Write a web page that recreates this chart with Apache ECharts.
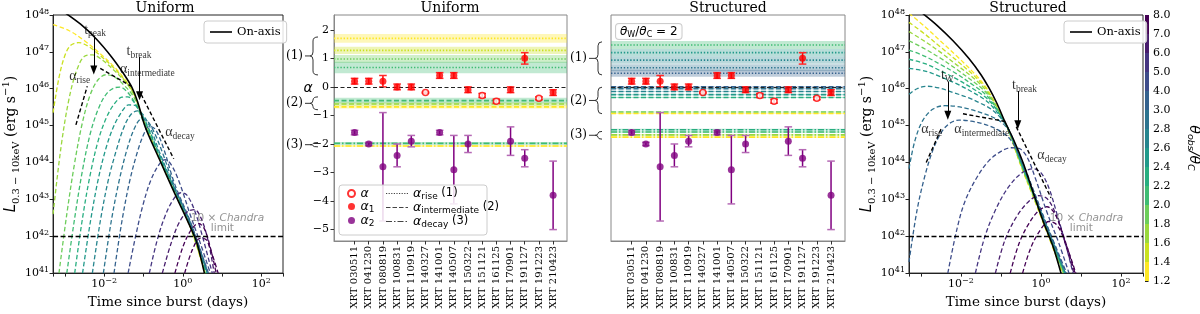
<!DOCTYPE html>
<html>
<head>
<meta charset="utf-8">
<script src="https://cdn.jsdelivr.net/npm/echarts@6.0.0/dist/echarts.min.js"></script>
<style>
html,body{margin:0;padding:0;background:#ffffff;}
#chart{width:1200px;height:314px;}
</style>
</head>
<body>
<div id="chart"></div>
<script>
// ======================= DATA =======================
const thetaBounds = [1.2,1.4,1.6,1.8,2.0,2.2,2.4,2.6,2.8,3.0,4.0,5.0,6.0,7.0,8.0];
const thetaTickLabels = ['1.2','1.4','1.6','1.8','2.0','2.2','2.4','2.6','2.8','3.0','4.0','5.0','6.0','7.0','8.0'];
const curveThetas = [1.2,1.4,1.6,1.8,2.0,2.2,2.4,2.6,2.8,3.0,4.0,5.0,6.0,7.0,8.0];

// Uniform jet light curves [days, erg/s]
const uniformOnAxis = [[8.91e-4,1.26e48],[2.51e-3,5.62e47],[6.31e-3,2.24e47],[1.58e-2,7.08e46],[3.16e-2,2.51e46],[5.01e-2,1.12e46],[7.08e-2,4.47e45],[0.112,8.91e44],[0.251,1.26e44],[0.631,1.41e43],[1.41,2.24e42],[2.24,7.08e41],[3.55,1.0e41]];
const uniformCurves = [
 [[5.01e-4,5.50e47],[1.26e-3,3.80e47],[3.16e-3,2.00e47],[7.94e-3,8.91e46],[1.78e-2,3.98e46],[3.55e-2,1.66e46],[5.62e-2,7.59e45],[8.91e-2,2.00e45],[0.251,1.32e44],[0.631,1.48e43],[1.585,1.66e42],[3.63,1e41]],
 [[5.01e-4,2.24e45],[7.08e-4,2.00e46],[1.0e-3,7.94e46],[1.41e-3,1.51e47],[2.24e-3,1.78e47],[3.98e-3,1.41e47],[7.94e-3,7.94e46],[1.78e-2,3.63e46],[3.55e-2,1.58e46],[5.62e-2,7.41e45],[8.91e-2,2.00e45],[0.251,1.35e44],[0.631,1.51e43],[1.585,1.70e42],[3.72,1e41]],
 [[5.01e-4,3.98e42],[7.94e-4,2.51e44],[1.26e-3,5.01e45],[2.00e-3,3.16e46],[3.16e-3,7.59e46],[5.01e-3,8.32e46],[8.91e-3,6.03e46],[1.78e-2,3.16e46],[3.55e-2,1.48e46],[5.62e-2,7.08e45],[8.91e-2,2.00e45],[0.251,1.38e44],[0.631,1.55e43],[1.585,1.74e42],[3.80,1e41]],
 [[7.08e-4,1e41],[1.12e-3,3.98e42],[1.78e-3,1.0e44],[2.82e-3,1.26e45],[4.47e-3,7.08e45],[7.08e-3,1.78e46],[1.12e-2,2.40e46],[1.78e-2,2.14e46],[3.16e-2,1.26e46],[5.62e-2,6.03e45],[8.91e-2,1.91e45],[0.251,1.41e44],[0.631,1.58e43],[1.585,1.78e42],[3.89,1e41]],
 [[1.12e-3,1e41],[1.78e-3,3.16e42],[2.82e-3,6.31e43],[4.47e-3,6.31e44],[7.08e-3,2.82e45],[1.12e-2,7.08e45],[1.78e-2,1.05e46],[2.51e-2,1.10e46],[3.98e-2,7.94e45],[6.31e-2,3.80e45],[0.1,1.26e45],[0.251,1.48e44],[0.631,1.66e43],[1.585,1.86e42],[3.98,1e41]],
 [[1.78e-3,1e41],[2.82e-3,3.16e42],[4.47e-3,5.01e43],[7.08e-3,3.98e44],[1.12e-2,1.58e45],[1.78e-2,3.80e45],[2.82e-2,5.89e45],[3.98e-2,6.03e45],[5.62e-2,4.47e45],[8.91e-2,1.91e45],[0.141,7.08e44],[0.251,1.58e44],[0.631,1.74e43],[1.585,1.95e42],[4.07,1e41]],
 [[2.82e-3,1e41],[4.47e-3,2.51e42],[7.08e-3,3.55e43],[1.12e-2,2.51e44],[1.78e-2,1.0e45],[2.82e-2,2.40e45],[4.17e-2,3.63e45],[6.03e-2,3.55e45],[8.91e-2,2.09e45],[0.141,7.59e44],[0.251,1.70e44],[0.631,1.82e43],[1.585,2.04e42],[4.17,1e41]],
 [[5.01e-3,1e41],[7.94e-3,2.51e42],[1.26e-2,3.16e43],[2.00e-2,2.00e44],[3.16e-2,8.91e44],[4.79e-2,2.00e45],[7.08e-2,2.51e45],[0.1,1.91e45],[0.158,7.59e44],[0.251,2.00e44],[0.631,1.91e43],[1.585,2.14e42],[4.27,1e41]],
 [[9.55e-3,1e41],[1.51e-2,2.51e42],[2.40e-2,3.16e43],[3.80e-2,2.24e44],[6.03e-2,8.91e44],[8.91e-2,1.51e45],[0.126,1.32e45],[0.191,6.31e44],[0.316,1.66e44],[0.631,2.09e43],[1.585,2.24e42],[4.37,1e41]],
 [[1.78e-2,1e41],[2.82e-2,2.51e42],[4.47e-2,3.16e43],[7.08e-2,2.00e44],[0.105,6.31e44],[0.141,9.55e44],[0.200,7.94e44],[0.316,2.63e44],[0.631,2.51e43],[1.585,2.40e42],[4.47,1e41]],
 [[4.07e-2,1e41],[6.31e-2,1e42],[0.1,7.94e42],[0.158,3.55e43],[0.251,8.91e43],[0.355,1.20e44],[0.501,8.91e43],[0.794,3.16e43],[1.585,3.55e42],[2.82,6.31e41],[5.01,1e41]],
 [[0.141,1e41],[0.224,7.94e41],[0.355,3.55e42],[0.562,9.55e42],[0.891,1.51e43],[1.26,1.32e43],[2.00,5.01e42],[3.16,1e42],[5.62,1e41]],
 [[0.302,1e41],[0.501,6.31e41],[0.794,2.24e42],[1.26,4.47e42],[2.00,5.25e42],[3.02,2.82e42],[4.47,7.08e41],[6.31,1e41]],
 [[0.631,1e41],[1.0,5.01e41],[1.585,1.41e42],[2.51,2.24e42],[3.55,1.58e42],[5.01,5.01e41],[7.08,1e41]],
 [[1.12,1e41],[1.78,4.47e41],[2.82,8.91e41],[3.98,7.94e41],[5.62,3.16e41],[7.94,1e41]]
];
const uniformRiseFit = [[1.91e-3,1.05e45],[3.72e-3,1.17e46]];
const uniformInterFit = [[7.94e-3,3.55e46],[4.90e-2,1.17e46]];
const uniformDecayFit = [[8.71e-2,7.08e45],[0.589,1.26e44]];

// Structured jet light curves [days, erg/s]
const structuredOnAxis = [[1.0e-3,1.20e48],[2.51e-3,5.25e47],[6.31e-3,2.00e47],[1.58e-2,6.61e46],[3.16e-2,2.40e46],[5.01e-2,1.05e46],[7.94e-2,3.98e45],[0.126,1.26e45],[0.200,4.47e44],[0.355,1.0e44],[0.631,1.58e43],[1.12,2.63e42],[2.00,5.25e41],[3.16,1e41]];
const structuredCurves = [
 [[5.01e-4,1.12e48],[1.26e-3,4.79e47],[3.16e-3,1.91e47],[7.94e-3,7.59e46],[2.00e-2,2.82e46],[3.98e-2,1.20e46],[6.31e-2,5.25e45],[0.1,2.00e45],[0.158,6.61e44],[0.316,7.94e43],[0.631,1.20e43],[1.41,1.26e42],[3.47,1e41]],
 [[5.01e-4,6.31e47],[1.26e-3,3.02e47],[3.16e-3,1.32e47],[7.94e-3,5.75e46],[2.00e-2,2.40e46],[3.98e-2,1.10e46],[6.31e-2,5.01e45],[0.1,2.00e45],[0.158,6.76e44],[0.316,8.32e43],[0.631,1.26e43],[1.41,1.32e42],[3.55,1e41]],
 [[5.01e-4,3.55e47],[1.26e-3,1.91e47],[3.16e-3,9.55e46],[7.94e-3,4.37e46],[2.00e-2,2.00e46],[3.98e-2,9.77e45],[6.31e-2,4.79e45],[0.1,1.95e45],[0.158,6.92e44],[0.316,8.71e43],[0.631,1.32e43],[1.41,1.38e42],[3.63,1e41]],
 [[5.01e-4,2.00e47],[1.26e-3,1.20e47],[3.16e-3,6.61e46],[7.94e-3,3.31e46],[2.00e-2,1.58e46],[3.98e-2,8.51e45],[6.31e-2,4.37e45],[0.1,1.91e45],[0.158,7.08e44],[0.316,9.12e43],[0.631,1.38e43],[1.41,1.45e42],[3.72,1e41]],
 [[5.01e-4,1.12e47],[1.26e-3,7.59e46],[3.16e-3,4.47e46],[7.94e-3,2.51e46],[2.00e-2,1.26e46],[3.98e-2,7.24e45],[6.31e-2,3.98e45],[0.1,1.86e45],[0.158,7.24e44],[0.316,9.55e43],[0.631,1.45e43],[1.41,1.51e42],[3.80,1e41]],
 [[5.01e-4,6.31e46],[1.26e-3,4.79e46],[3.16e-3,3.02e46],[7.94e-3,1.82e46],[2.00e-2,1.0e46],[3.98e-2,6.03e45],[6.31e-2,3.63e45],[0.1,1.78e45],[0.158,7.41e44],[0.316,1.0e44],[0.631,1.51e43],[1.41,1.58e42],[3.89,1e41]],
 [[5.01e-4,3.55e46],[1.26e-3,3.02e46],[3.16e-3,2.09e46],[7.94e-3,1.35e46],[2.00e-2,7.94e45],[3.98e-2,5.01e45],[6.31e-2,3.16e45],[0.1,1.66e45],[0.158,7.59e44],[0.316,1.05e44],[0.631,1.58e43],[1.41,1.66e42],[3.98,1e41]],
 [[5.01e-4,7.08e45],[7.94e-4,1.0e46],[1.41e-3,1.17e46],[2.82e-3,1.05e46],[6.31e-3,7.94e45],[1.58e-2,5.62e45],[3.16e-2,3.98e45],[5.62e-2,2.82e45],[0.1,1.58e45],[0.158,7.59e44],[0.316,1.12e44],[0.631,1.66e43],[1.41,1.78e42],[4.07,1e41]],
 [[5.01e-4,6.76e43],[7.08e-4,3.98e44],[1.12e-3,1.41e45],[2.00e-3,2.82e45],[3.98e-3,3.47e45],[7.94e-3,3.31e45],[1.58e-2,2.82e45],[3.16e-2,2.24e45],[5.62e-2,1.78e45],[0.1,1.26e45],[0.158,7.08e44],[0.316,1.20e44],[0.631,1.78e43],[1.41,1.91e42],[4.17,1e41]],
 [[5.01e-4,2.00e41],[7.94e-4,5.01e42],[1.26e-3,4.47e43],[2.00e-3,2.24e44],[3.16e-3,6.31e44],[5.01e-3,1.12e45],[8.91e-3,1.41e45],[1.78e-2,1.32e45],[3.55e-2,1.12e45],[6.31e-2,8.91e44],[0.112,6.31e44],[0.178,3.98e44],[0.316,1.26e44],[0.631,1.91e43],[1.41,2.00e42],[4.37,1e41]],
 [[4.68e-3,1e41],[7.94e-3,1.58e42],[1.26e-2,8.91e42],[2.51e-2,3.98e43],[5.01e-2,1.12e44],[0.1,2.00e44],[0.178,2.51e44],[0.282,2.40e44],[0.447,1.41e44],[0.708,3.98e43],[1.41,4.47e42],[2.82,6.31e41],[5.01,1e41]],
 [[2.29e-2,1e41],[3.98e-2,1e42],[7.94e-2,6.31e42],[0.158,2.24e43],[0.316,5.01e43],[0.631,6.76e43],[1.0,5.25e43],[1.585,2.00e43],[2.51,3.98e42],[3.98,7.08e41],[6.31,1e41]],
 [[7.24e-2,1e41],[0.126,7.94e41],[0.251,3.55e42],[0.501,8.91e42],[0.891,1.26e43],[1.41,1.05e43],[2.24,4.47e42],[3.55,1e42],[6.61,1e41]],
 [[0.170,1e41],[0.282,6.31e41],[0.501,2.24e42],[0.891,5.01e42],[1.41,6.31e42],[2.24,3.98e42],[3.55,1.12e42],[7.08,1e41]],
 [[0.347,1e41],[0.562,5.01e41],[1.0,1.58e42],[1.585,2.51e42],[2.51,2.00e42],[3.98,7.08e41],[7.41,1e41]]
];
const structuredRiseFit = [[1.35e-3,1.0e44],[3.24e-3,8.51e44]];
const structuredInterFit = [[1.12e-2,2.09e45],[0.148,1.26e45]];
const structuredDecayFit = [[0.240,9.33e44],[1.78,1.10e43]];

const chandraLimit = 1e42;

// Observed temporal indices
const xrtIds = ['XRT 030511','XRT 041230','XRT 080819','XRT 100831','XRT 110919','XRT 140327','XRT 141001','XRT 140507','XRT 150322','XRT 151121','XRT 161125','XRT 170901','XRT 191127','XRT 191223','XRT 210423'];
const alphaSingle    = [null,null,null,null,null,-0.2,null,null,null,-0.3,-0.5,null,null,-0.4,null];
const alphaSingleErr = [null,null,null,null,null,0.02,null,null,null,0.07,0.07,null,null,0.05,null];
const alpha1    = [0.2,0.2,0.2,0.0,0.0,null,0.4,0.4,-0.1,null,null,-0.1,1.0,null,-0.2];
const alpha1Err = [0.1,0.1,0.2,0.1,0.1,null,0.1,0.1,0.1,null,null,0.1,0.2,null,0.1];
const alpha2    = [-1.6,-2.0,-2.8,-2.4,-1.9,null,-1.6,-2.9,-2.0,null,null,-1.9,-2.5,null,-3.8];
const alpha2Err = [0.08,0.06,1.9,0.4,0.2,null,0.08,1.2,0.3,null,null,0.5,0.3,null,1.2];

// Model index ranges (mean, spread, viewing angle)
const uniRiseMean = [1.70,1.28,0.98,0.68];
const uniRiseSd   = [0.15,0.13,0.14,0.2];
const uniRiseTheta= [1.2,1.4,1.8,2.0];
const uniInterMean = [-0.48,-0.60,-0.70];
const uniInterSd   = [0.10,0.06,0.06];
const uniInterTheta= [2.0,1.6,1.2];
const uniDecayMean = [-1.98,-2.07];
const uniDecaySd   = [0.05,0.035];
const uniDecayTheta= [2.0,1.2];

const strRiseMean = [1.47,1.20,0.94,0.67,0.48];
const strRiseSd   = [0.14,0.13,0.13,0.12,0.12];
const strRiseTheta= [2.0,2.4,2.6,2.8,3.0];
const strInterMean = [0.0,-0.06,-0.16,-0.27,-0.37,-0.88,-0.93];
const strInterSd   = [0.02,0.02,0.02,0.02,0.02,0.02,0.02];
const strInterTheta= [3.0,2.8,2.6,2.4,2.2,1.8,1.2];
const strDecayMean = [-1.50,-1.58,-1.68,-1.76];
const strDecaySd   = [0.03,0.03,0.03,0.03];
const strDecayTheta= [2.2,2.0,1.6,1.2];

const braceLabels = ['(1)','(2)','(3)'];
const uniBraceHi = [1.75,-0.35,-1.95];
const uniBraceLo = [0.42,-0.80,-2.10];
const strBraceHi = [1.58,-0.01,-1.56];
const strBraceLo = [0.42,-0.94,-1.83];

// ======================= STYLE =======================
const viridisBands = ['#fde725','#cae11f','#9ad83d','#6ccd5a','#3fbc73','#28ae80','#21998a','#26858e','#2c738e','#34618d','#3e4c8a','#453581','#471c6c','#440154'];
function colorForTheta(t){
  let idx = 0;
  for (let i = 1; i < thetaBounds.length; i++) if (t >= thetaBounds[i] - 1e-9) idx = i;
  return viridisBands[Math.min(idx, viridisBands.length - 1)];
}
const SERIF = 'DejaVu Serif';
const SANS = 'DejaVu Sans';
const TIMES = 'Liberation Serif';
const richTick = {
  b:{fontFamily:SERIF,fontSize:11,lineHeight:15,color:'#000'},
  s:{fontFamily:SERIF,fontSize:8,lineHeight:9,verticalAlign:'top',color:'#000'}
};
const richAnn = {
  m:{fontFamily:TIMES,fontSize:14,lineHeight:18,color:'#000'},
  s:{fontFamily:TIMES,fontSize:9.5,lineHeight:10,verticalAlign:'bottom',color:'#000'},
  g:{fontFamily:SANS,fontSize:10.5,lineHeight:13,color:'#777'},
  gi:{fontFamily:SANS,fontStyle:'italic',fontSize:10.5,lineHeight:13,color:'#777'}
};
const richYName = {
  i:{fontFamily:SANS,fontStyle:'italic',fontSize:15,lineHeight:20,color:'#000'},
  sub:{fontFamily:SERIF,fontSize:10,lineHeight:11,verticalAlign:'bottom',color:'#000'},
  n:{fontFamily:SERIF,fontSize:14,lineHeight:20,color:'#000'},
  sup:{fontFamily:SERIF,fontSize:10,lineHeight:11,verticalAlign:'top',color:'#000'}
};
function expStr(e){ return e < 0 ? '\u2212' + (-e) : String(e); }
function logLabel(v, everyOther){
  const l = Math.log10(v); const e = Math.round(l);
  if (Math.abs(l - e) > 1e-6) return '';
  if (everyOther && e % 2 !== 0) return '';
  return '{b|10}{s|' + expStr(e) + '}';
}
const idxList = xrtIds.map((_, i) => i);
const alphaTicks = [-5,-4,-3,-2,-1,0,1,2];

function lcAxes(grid){
  return {
    x:{type:'log', gridIndex:grid, min:5.01e-4, max:355, logBase:10,
      axisLine:{show:true,lineStyle:{color:'#222'}}, axisTick:{show:true,length:3.5,lineStyle:{color:'#222'}},
      axisLabel:{formatter:v=>logLabel(v,true), rich:richTick, margin:4},
      splitLine:{show:false}, minorTick:{show:false},
      name:'Time since burst (days)', nameLocation:'middle', nameGap:14,
      nameTextStyle:{fontFamily:SERIF,fontSize:13.5,color:'#000'}},
    y:{type:'log', gridIndex:grid, min:1e41, max:1e48, logBase:10,
      axisLine:{show:true,lineStyle:{color:'#222'}}, axisTick:{show:true,length:3.5,lineStyle:{color:'#222'}},
      axisLabel:{formatter:v=>logLabel(v,false), rich:richTick, margin:4},
      splitLine:{show:false},
      name:'{i|L}{sub|0.3 \u2212 10keV}{n| (erg s}{sup|\u22121}{n|)}', nameLocation:'middle', nameGap:31, nameRotate:90,
      nameTextStyle:{rich:richYName}}
  };
}
function alphaAxes(grid, showY){
  return {
    x:{type:'value', gridIndex:grid, min:-1.45, max:14.98,
      axisLine:{show:true,onZero:false,lineStyle:{color:'#888'}},
      axisTick:{show:true,customValues:idxList,length:3.5,lineStyle:{color:'#333'}},
      axisLabel:{customValues:idxList, rotate:90, formatter:v=>xrtIds[Math.round(v)]||'', fontFamily:SERIF, fontSize:10, color:'#000', margin:5},
      splitLine:{show:false}},
    y:{type:'value', gridIndex:grid, min:-5.4, max:2.52,
      axisLine:{show:showY,onZero:false,lineStyle:{color:'#888'}},
      axisTick:{show:showY,customValues:alphaTicks,length:3.5,lineStyle:{color:'#333'}},
      axisLabel:{show:showY,customValues:alphaTicks, formatter:v=>expStr(Math.round(v)), fontFamily:SERIF, fontSize:11, color:'#000', margin:5},
      splitLine:{show:false}}
  };
}
const A0 = lcAxes(0), A1 = alphaAxes(1,true), A2 = alphaAxes(2,false), A3 = lcAxes(3);

function curveSeries(ax, curves){
  return curves.map((d, i) => ({
    type:'line', xAxisIndex:ax, yAxisIndex:ax, data:d, symbol:'none', smooth:0.35, silent:true, z:3,
    lineStyle:{color:colorForTheta(curveThetas[i]), width:1.3, type:[4.5,2.5]}
  }));
}
function onAxisSeries(ax, d){
  return {name:'On-axis', type:'line', xAxisIndex:ax, yAxisIndex:ax, data:d, symbol:'none', smooth:0.3, z:5, silent:true,
    lineStyle:{color:'#000', width:1.6, type:'solid'}, itemStyle:{color:'#000'},
    markLine:{silent:true, symbol:'none', label:{show:false}, lineStyle:{color:'#000', width:1.4, type:[5,2.5]}, data:[{yAxis:chandraLimit}]}
  };
}
function fitSeries(ax, d, arrows){
  const s = {type:'line', xAxisIndex:ax, yAxisIndex:ax, data:d, symbol:'none', z:6, silent:true,
    lineStyle:{color:'#000', width:1.4, type:[4,2.5]}};
  if (arrows) s.markLine = {silent:true, symbol:['none','triangle'], symbolSize:[7,9], label:{show:false},
    lineStyle:{color:'#000', width:1, type:'solid'},
    data: arrows.map(a => [{coord:a[0]},{coord:a[1]}])};
  return s;
}
function textSeries(ax, items){
  return {type:'scatter', xAxisIndex:ax, yAxisIndex:ax, symbolSize:1, silent:true, z:8, itemStyle:{color:'rgba(0,0,0,0)'},
    data: items.map(it => ({value:it[0], label:{formatter:it[1]}})),
    label:{show:true, position:[0,0], align:'center', verticalAlign:'middle', rich:richAnn}};
}

function bandSeries(ax, mean, sd, theta, dash){
  return {type:'custom', xAxisIndex:ax, yAxisIndex:ax, silent:true, z:1, clip:true,
    data: mean.map((m, i) => [0, m, sd[i], theta[i]]),
    renderItem:(params, api) => {
      const cs = params.coordSys;
      const m = api.value(1), s = api.value(2), col = colorForTheta(api.value(3));
      const yt = api.coord([0, m + s])[1], yb = api.coord([0, m - s])[1], ym = api.coord([0, m])[1];
      return {type:'group', children:[
        {type:'rect', shape:{x:cs.x, y:yt, width:cs.width, height:yb - yt}, style:{fill:col, opacity:0.32}},
        {type:'line', shape:{x1:cs.x, y1:ym, x2:cs.x + cs.width, y2:ym}, style:{stroke:col, lineWidth:1.6, lineDash:dash}}
      ]};
    }};
}
function zeroSeries(ax){
  return {type:'line', xAxisIndex:ax, yAxisIndex:ax, data:[], silent:true, z:2,
    markLine:{silent:true, symbol:'none', label:{show:false}, lineStyle:{color:'#222', width:1.2, type:[4,2.5]}, data:[{yAxis:0}]}};
}
function errSeries(ax, vals, errs, color, capColor){
  const data = [];
  vals.forEach((v, i) => { if (v !== null) data.push([i, v, errs[i]]); });
  return {type:'custom', xAxisIndex:ax, yAxisIndex:ax, silent:true, z:4, data,
    renderItem:(params, api) => {
      const x = api.value(0), v = api.value(1), e = api.value(2);
      const p0 = api.coord([x, v - e]), p1 = api.coord([x, v + e]);
      const cw = 3.8;
      return {type:'group', children:[
        {type:'line', shape:{x1:p0[0], y1:p0[1], x2:p1[0], y2:p1[1]}, style:{stroke:color, lineWidth:1.5}},
        {type:'line', shape:{x1:p0[0]-cw, y1:p0[1], x2:p0[0]+cw, y2:p0[1]}, style:{stroke:capColor, lineWidth:1.5}},
        {type:'line', shape:{x1:p1[0]-cw, y1:p1[1], x2:p1[0]+cw, y2:p1[1]}, style:{stroke:capColor, lineWidth:1.5}}
      ]};
    }};
}
function markerSeries(ax, name, vals, symbolStyle, size){
  const data = [];
  vals.forEach((v, i) => { if (v !== null) data.push([i, v]); });
  return {name, type:'scatter', xAxisIndex:ax, yAxisIndex:ax, data, symbol:'circle', symbolSize:size, z:5, silent:true,
    itemStyle:symbolStyle};
}
function braceSeries(ax, hi, lo, offset, vGap, tipLen){
  return {type:'custom', xAxisIndex:ax, yAxisIndex:ax, silent:true, clip:false, z:5,
    data: hi.map((h, i) => [0, h, lo[i], i]),
    renderItem:(params, api) => {
      const cs = params.coordSys;
      const y1 = api.coord([0, api.value(1)])[1], y2 = api.coord([0, api.value(2)])[1];
      const xr = cs.x - offset, xv = xr - vGap, ym = (y1 + y2) / 2;
      const r = Math.min(4, (y2 - y1) / 4);
      const xtip = xv - 3, xt = xtip - tipLen;
      const p = 'M' + xr + ' ' + y1 + ' Q' + xv + ' ' + y1 + ' ' + xv + ' ' + (y1 + r) +
        ' L' + xv + ' ' + (ym - r) + ' Q' + xv + ' ' + ym + ' ' + xtip + ' ' + ym +
        ' Q' + xv + ' ' + ym + ' ' + xv + ' ' + (ym + r) + ' L' + xv + ' ' + (y2 - r) +
        ' Q' + xv + ' ' + y2 + ' ' + xr + ' ' + y2 + ' M' + xtip + ' ' + ym + ' L' + xt + ' ' + ym;
      return {type:'group', children:[
        {type:'path', shape:{pathData:p}, style:{stroke:'#333', fill:null, lineWidth:1}},
        {type:'text', style:{text:braceLabels[api.value(3)], x:xt - 2, y:ym, align:'right', verticalAlign:'middle', fontFamily:SERIF, fontSize:12, fill:'#000'}}
      ]};
    }};
}

const series = [];
// Panel 1 (uniform light curves)
series.push(...curveSeries(0, uniformCurves));
series.push(onAxisSeries(0, uniformOnAxis));
series.push(fitSeries(0, uniformRiseFit));
series.push(fitSeries(0, uniformInterFit, [[[5.44e-3,2.69e47],[5.44e-3,3.24e46]],[[7.94e-2,7.24e46],[7.94e-2,6.46e45]]]));
series.push(fitSeries(0, uniformDecayFit));
series.push(textSeries(0, [
  [[6.03e-3,3.8e47],'{m|t}{s|peak}'],
  [[7.94e-2,1.0e47],'{m|t}{s|break}'],
  [[2.45e-3,2.14e46],'{m|\u03b1}{s|rise}'],
  [[0.129,3.24e46],'{m|\u03b1}{s|intermediate}'],
  [[0.871,6.31e44],'{m|\u03b1}{s|decay}'],
  [[14.1,2.95e42],'{g|10 \u00d7 }{gi|Chandra}'],
  [[10.5,1.58e42],'{g|limit}']
]));
// Panel 4 (structured light curves)
series.push(...curveSeries(3, structuredCurves));
series.push(onAxisSeries(3, structuredOnAxis));
series.push(fitSeries(3, structuredRiseFit));
series.push(fitSeries(3, structuredInterFit, [[[4.68e-3,1.58e46],[4.68e-3,1.91e45]],[[0.263,8.71e45],[0.263,1.05e45]]]));
series.push(fitSeries(3, structuredDecayFit));
series.push(textSeries(3, [
  [[4.68e-3,2.2e46],'{m|t}{s|W}'],
  [[0.398,1.2e46],'{m|t}{s|break}'],
  [[1.9e-3,7.76e44],'{m|\u03b1}{s|rise}'],
  [[3.4e-2,7.76e44],'{m|\u03b1}{s|intermediate}'],
  [[1.95,1.51e44],'{m|\u03b1}{s|decay}'],
  [[14.1,2.95e42],'{g|10 \u00d7 }{gi|Chandra}'],
  [[10.5,1.58e42],'{g|limit}']
]));
// Panels 2 & 3 (temporal indices)
const DOT = [1.4,1.8], DASH = [5,2.5], DASHDOT = [6,2,1.5,2];
[[1, uniRiseMean, uniRiseSd, uniRiseTheta, uniInterMean, uniInterSd, uniInterTheta, uniDecayMean, uniDecaySd, uniDecayTheta, uniBraceHi, uniBraceLo, 16, 5, 5],
 [2, strRiseMean, strRiseSd, strRiseTheta, strInterMean, strInterSd, strInterTheta, strDecayMean, strDecaySd, strDecayTheta, strBraceHi, strBraceLo, 9, 4, 6]
].forEach(p => {
  const ax = p[0];
  series.push(bandSeries(ax, p[1], p[2], p[3], DOT));
  series.push(bandSeries(ax, p[4], p[5], p[6], DASH));
  series.push(bandSeries(ax, p[7], p[8], p[9], DASHDOT));
  series.push(zeroSeries(ax));
  series.push(errSeries(ax, alpha2, alpha2Err, '#800080', '#b56ab5'));
  series.push(errSeries(ax, alpha1, alpha1Err, '#ff0000', '#ff2a2a'));
  series.push(errSeries(ax, alphaSingle, alphaSingleErr, '#ff0000', '#ff2a2a'));
  series.push(markerSeries(ax, 'a2', alpha2, {color:'#800080'}, 7));
  series.push(markerSeries(ax, 'a1', alpha1, {color:'#ff0000'}, 7));
  series.push(markerSeries(ax, 'a0', alphaSingle, {color:'#ffffff', borderColor:'#ff0000', borderWidth:1.5}, 6));
  series.push(braceSeries(ax, p[10], p[11], p[12], p[13], p[14]));
});
// legend-only line styles
series.push({name:'rise', type:'line', xAxisIndex:1, yAxisIndex:1, data:[], symbol:'none', lineStyle:{color:'#444', width:1.3, type:[1.3,1.7]}, itemStyle:{color:'#444'}});
series.push({name:'inter', type:'line', xAxisIndex:1, yAxisIndex:1, data:[], symbol:'none', lineStyle:{color:'#444', width:1.3, type:[4,2]}, itemStyle:{color:'#444'}});
series.push({name:'decay', type:'line', xAxisIndex:1, yAxisIndex:1, data:[], symbol:'none', lineStyle:{color:'#444', width:1.3, type:[6,2,1.5,2]}, itemStyle:{color:'#444'}});
// colorbar
series.push({type:'custom', xAxisIndex:4, yAxisIndex:4, silent:true, z:2,
  data: viridisBands.map((c, i) => [i]),
  renderItem:(params, api) => {
    const i = api.value(0);
    const p0 = api.coord([0, i]), p1 = api.coord([1, i + 1]);
    return {type:'rect', shape:{x:p0[0], y:p1[1], width:p1[0]-p0[0], height:p0[1]-p1[1]}, style:{fill:viridisBands[i]}};
  }});

const legendText = {
  a0:'{i|\u03b1}', a1:'{i|\u03b1}{s|1}', a2:'{i|\u03b1}{s|2}',
  rise:'{i|\u03b1}{s|rise}{n| (1)}', inter:'{i|\u03b1}{s|intermediate}{n| (2)}', decay:'{i|\u03b1}{s|decay}{n| (3)}'
};
const richLeg = {
  i:{fontFamily:SANS,fontStyle:'italic',fontSize:12.5,lineHeight:15,color:'#000'},
  s:{fontFamily:SANS,fontSize:9,lineHeight:9,verticalAlign:'bottom',color:'#000'},
  n:{fontFamily:SANS,fontSize:11.5,lineHeight:15,color:'#000'}
};
const ICON_DOT = 'path://M0,0h1.2v1h-1.2z M2.6,0h1.2v1h-1.2z M5.2,0h1.2v1h-1.2z M7.8,0h1.2v1h-1.2z M10.4,0h1.2v1h-1.2z M13,0h1.2v1h-1.2z M15.6,0h1.2v1h-1.2z M18.2,0h1.2v1h-1.2z M20.8,0h1.2v1h-1.2z';
const ICON_DASH = 'path://M0,0h4.5v1h-4.5z M6.5,0h4.5v1h-4.5z M13,0h4.5v1h-4.5z M19.5,0h2.5v1h-2.5z';
const ICON_DASHDOT = 'path://M0,0h6v1h-6z M8,0h1.5v1h-1.5z M11.5,0h6v1h-6z M19.5,0h1.5v1h-1.5z M22,0h0.01v1h-0.01z';
const onAxisLegend = (left) => ({data:[{name:'On-axis', icon:'rect'}], left, top:21, orient:'vertical', itemWidth:22, itemHeight:1.6, padding:[4,6],
  backgroundColor:'rgba(255,255,255,0.85)', borderColor:'#cccccc', borderWidth:1, borderRadius:3, selectedMode:false, z:20,
  textStyle:{fontFamily:SERIF, fontSize:11.5, color:'#000', lineHeight:14}});

const option = {
  animation:false,
  backgroundColor:'#ffffff',
  grid:[
    {left:48, top:15, width:235, height:266, show:true, borderColor:'#222', borderWidth:1, backgroundColor:'transparent'},
    {left:334, top:15, width:233, height:226, show:true, borderColor:'#888', borderWidth:1, backgroundColor:'transparent'},
    {left:611, top:15, width:234, height:226, show:true, borderColor:'#888', borderWidth:1, backgroundColor:'transparent'},
    {left:909, top:15, width:234, height:266, show:true, borderColor:'#222', borderWidth:1, backgroundColor:'transparent'},
    {left:1145, top:15, width:16, height:266, show:false}
  ],
  xAxis:[A0.x, A1.x, A2.x, A3.x,
    {type:'value', gridIndex:4, min:0, max:1, show:false}],
  yAxis:[A0.y, A1.y, A2.y, A3.y,
    {type:'value', gridIndex:4, min:0, max:14, position:'right',
     axisLine:{show:false}, splitLine:{show:false},
     axisTick:{show:true, customValues:thetaBounds.map((_, i) => i), length:3.5, lineStyle:{color:'#222'}},
     axisLabel:{customValues:thetaBounds.map((_, i) => i), formatter:v => thetaTickLabels[Math.round(v)] || '', fontFamily:SERIF, fontSize:11, color:'#000', margin:4},
     name:'{i|\u03b8}{s|obs}{n|/}{i|\u03b8}{s|C}', nameLocation:'middle', nameRotate:-90, nameGap:36,
     nameTextStyle:{rich:{
       i:{fontFamily:SANS,fontStyle:'italic',fontSize:14,lineHeight:18,color:'#000'},
       s:{fontFamily:SANS,fontStyle:'italic',fontSize:9.5,lineHeight:10,verticalAlign:'bottom',color:'#000'},
       n:{fontFamily:SANS,fontStyle:'italic',fontSize:14,lineHeight:18,color:'#000'}}}}
  ],
  legend:[
    onAxisLegend(204), onAxisLegend(1064),
    {data:['a0','a1','a2'], left:347, top:187, orient:'vertical', itemWidth:8, itemHeight:7, itemGap:0, padding:0,
     formatter:n => legendText[n], textStyle:{rich:richLeg}, selectedMode:false, z:60},
    {data:[{name:'rise', icon:ICON_DOT},{name:'inter', icon:ICON_DASH},{name:'decay', icon:ICON_DASHDOT}], left:386, top:187, orient:'vertical', itemWidth:22, itemHeight:1.4, itemGap:0, padding:0,
     formatter:n => legendText[n], textStyle:{rich:richLeg}, selectedMode:false, z:60}
  ],
  graphic:[
    {type:'text', x:165, y:8, z:30, style:{text:'Uniform', fontFamily:SERIF, fontSize:14, fill:'#000', align:'center', verticalAlign:'middle'}},
    {type:'text', x:450, y:8, z:30, style:{text:'Uniform', fontFamily:SERIF, fontSize:14, fill:'#000', align:'center', verticalAlign:'middle'}},
    {type:'text', x:728, y:8, z:30, style:{text:'Structured', fontFamily:SERIF, fontSize:14, fill:'#000', align:'center', verticalAlign:'middle'}},
    {type:'text', x:1028, y:8, z:30, style:{text:'Structured', fontFamily:SERIF, fontSize:14, fill:'#000', align:'center', verticalAlign:'middle'}},
    {type:'text', x:308, y:88, z:30, style:{text:'\u03b1', fontFamily:SANS, fontStyle:'italic', fontSize:14, fill:'#000', align:'center', verticalAlign:'middle'}},
    {type:'rect', z:50, shape:{x:339, y:185, width:148, height:50, r:3}, style:{fill:'rgba(255,255,255,0.85)', stroke:'#cccccc', lineWidth:1}},
    {type:'text', x:616, y:24, z:50, style:{
      text:'{i|\u03b8}{s|W}{n|/}{i|\u03b8}{s|C}{n| = 2}',
      rich:{i:{fontFamily:SANS,fontStyle:'italic',fontSize:12,lineHeight:15,fill:'#000'},
            s:{fontFamily:SANS,fontSize:8,lineHeight:9,verticalAlign:'bottom',fill:'#000'},
            n:{fontFamily:SANS,fontSize:12,lineHeight:15,fill:'#000'}},
      backgroundColor:'rgba(255,255,255,0.9)', borderColor:'#cccccc', borderWidth:1, borderRadius:3, padding:[0,4]}}
  ],
  series
};

const chart = echarts.init(document.getElementById('chart'), null, {renderer:'canvas', width:1200, height:314});
chart.setOption(option);
</script>
</body>
</html>
